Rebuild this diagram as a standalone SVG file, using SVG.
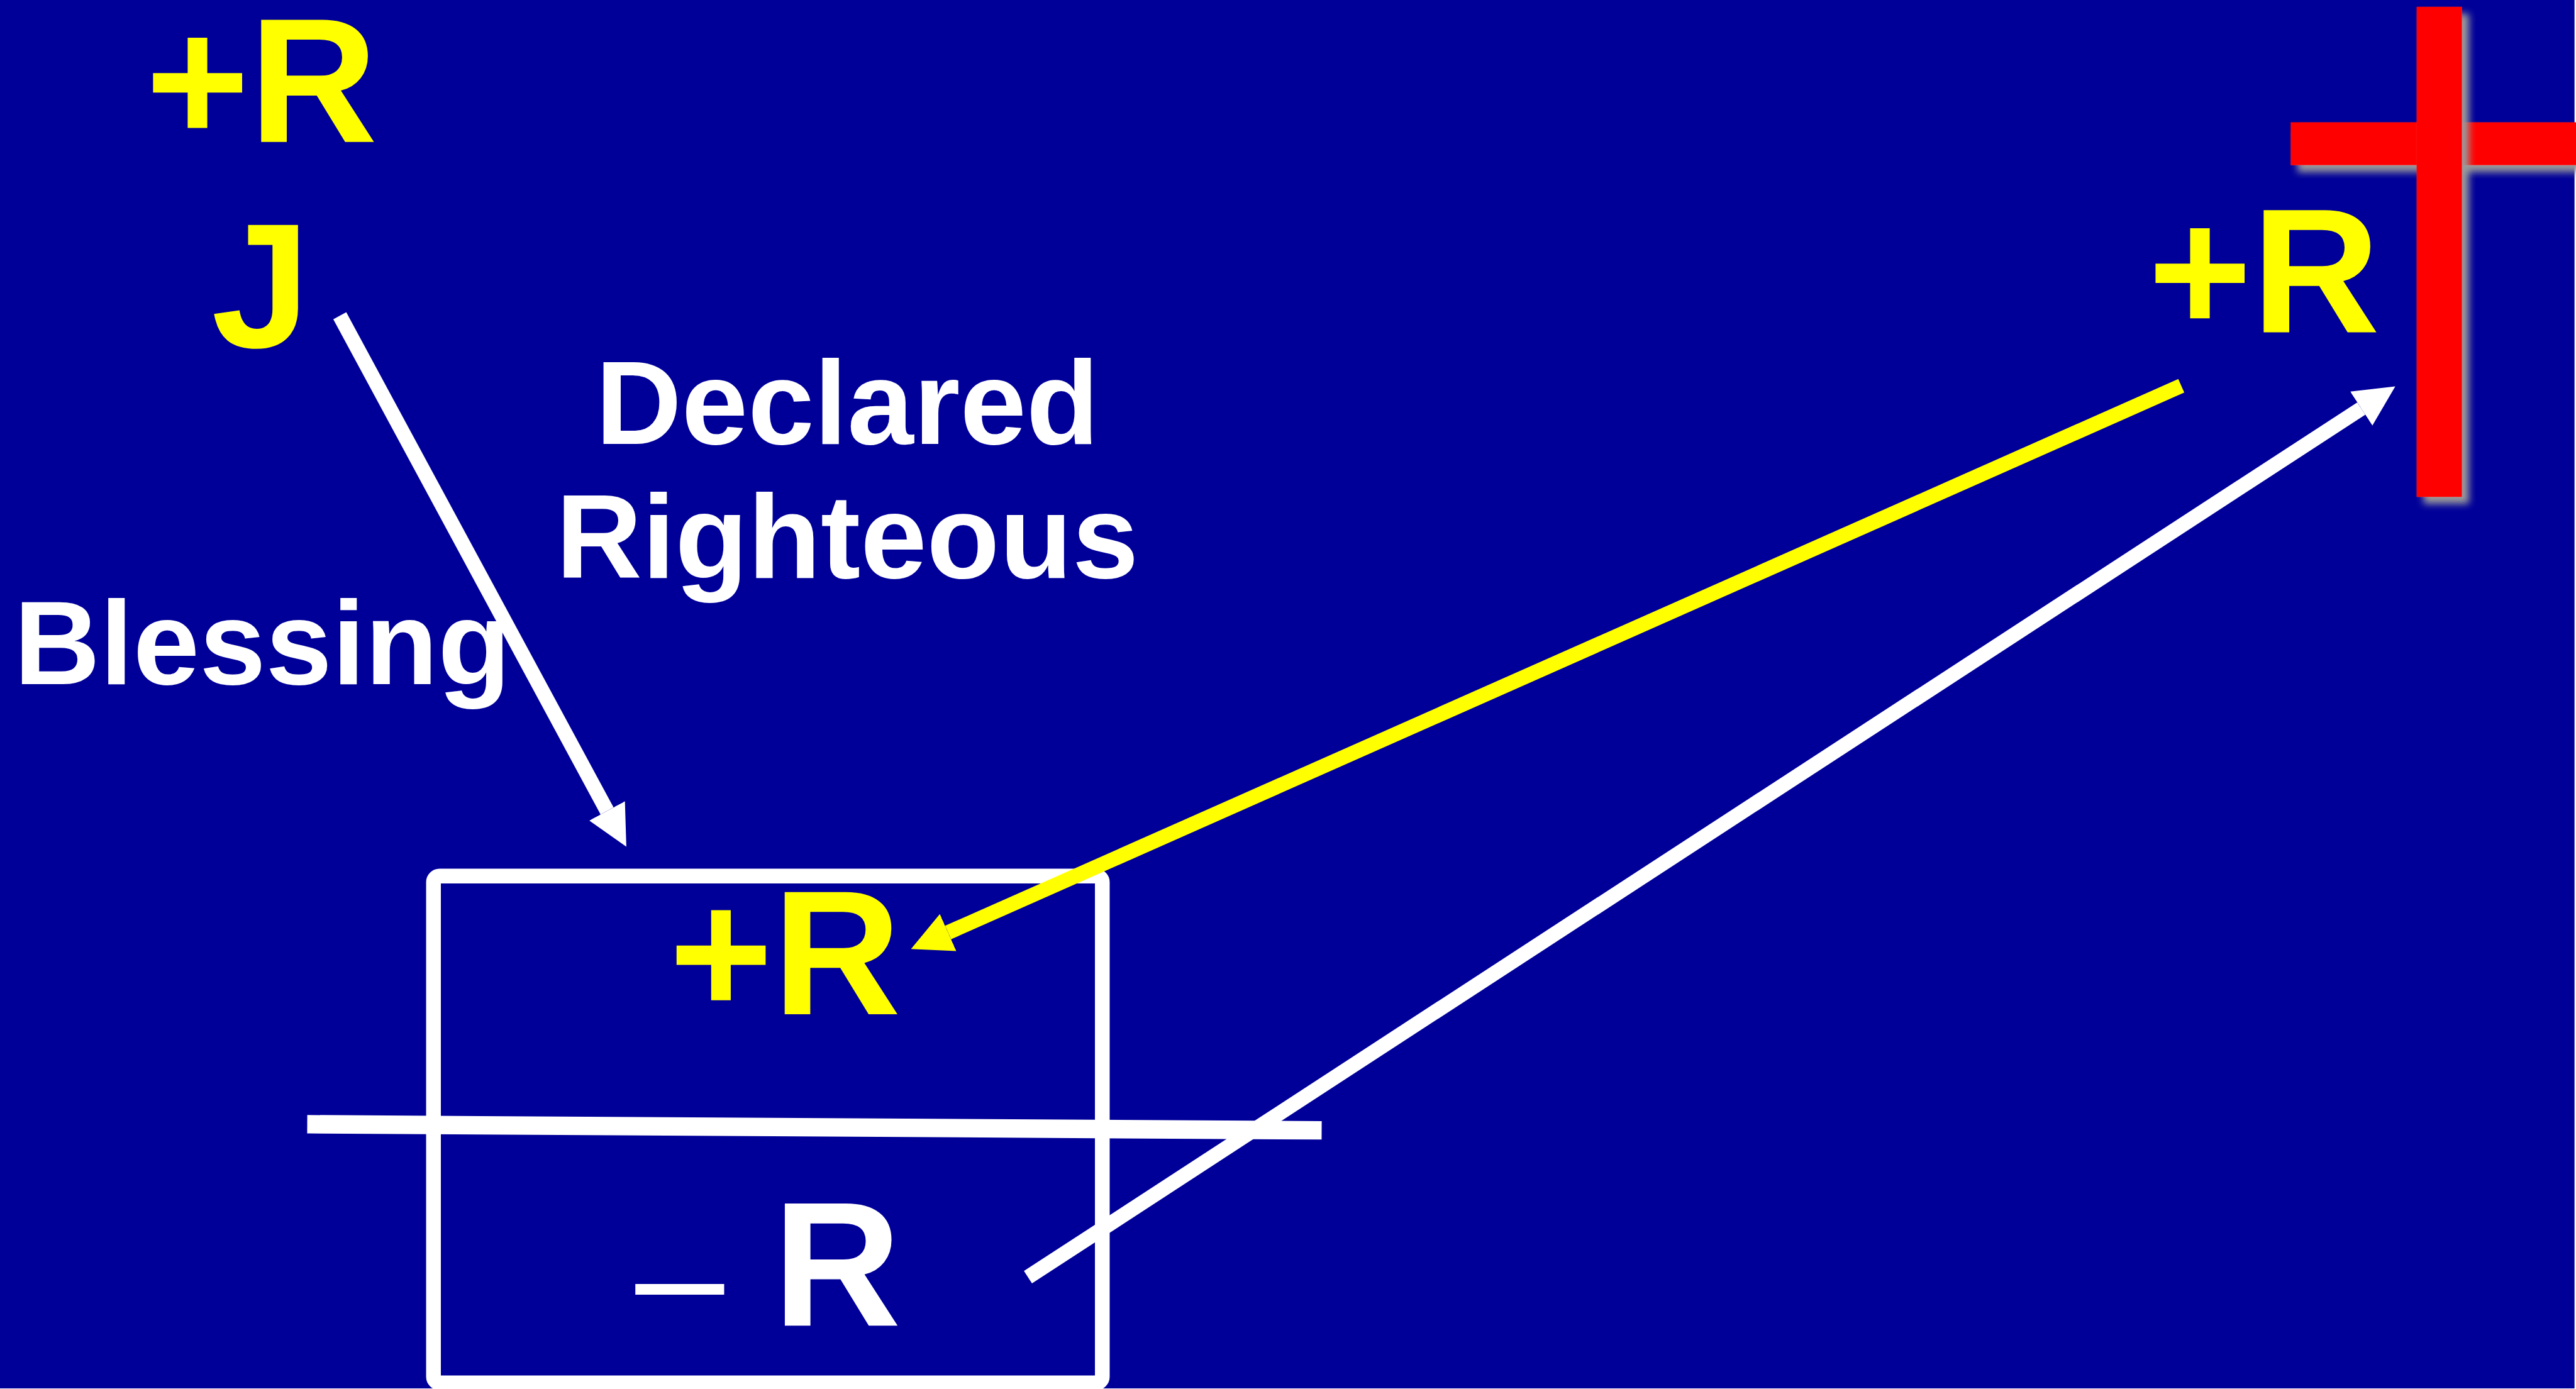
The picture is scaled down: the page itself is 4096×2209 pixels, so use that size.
<svg xmlns="http://www.w3.org/2000/svg" width="4096" height="2209" viewBox="0 0 4096 2209">
<style>
.big{font-family:"Liberation Sans",Arial,sans-serif;font-weight:bold;font-size:289px}
.lbl{font-family:"Liberation Sans",Arial,sans-serif;font-weight:bold;font-size:194px;fill:#ffffff;text-anchor:middle}
.y{fill:#ffff00}
.w{fill:#ffffff}
.conn{fill:none;stroke-width:24;stroke-linecap:butt}
.bar{fill:#ff0000;filter:url(#shadow)}
</style>
<defs>
<filter id="shadow" x="-20%" y="-20%" width="150%" height="150%">
<feGaussianBlur in="SourceAlpha" stdDeviation="6" result="b"/>
<feOffset in="b" dx="11" dy="11" result="o"/>
<feFlood flood-color="#9a9a9a" result="c"/>
<feComposite in="c" in2="o" operator="in" result="s"/>
<feMerge><feMergeNode in="s"/><feMergeNode in="SourceGraphic"/></feMerge>
</filter>
<marker id="headW" viewBox="0 0 66 66" refX="0" refY="33" markerWidth="2.75" markerHeight="2.75" orient="auto" markerUnits="strokeWidth"><path d="M0,0 L66,33 L0,66 z" fill="#ffffff"/></marker>
<marker id="headY" viewBox="0 0 66 66" refX="0" refY="33" markerWidth="2.75" markerHeight="2.75" orient="auto" markerUnits="strokeWidth"><path d="M0,0 L66,33 L0,66 z" fill="#ffff00"/></marker>
</defs>
<g transform="scale(0.977)">
<rect x="0" y="0" width="4190" height="2260" fill="#000099"/>
<g id="cross">
<rect class="bar" x="3728" y="199" width="480" height="70"/>
<rect class="bar" x="3933" y="11" width="74" height="798"/>
</g>
<g id="node-top-left">
<text class="big y" x="237" y="231">+R</text>
<text class="big y" x="344" y="565">J</text>
</g>
<g id="node-top-right">
<text class="big y" x="3496" y="541">+R</text>
</g>
<g id="label-declared">
<text class="lbl" x="1379" y="723">Declared</text>
<text class="lbl" x="1379" y="941">Righteous</text>
</g>
<g id="label-blessing">
<text class="lbl" x="427" y="1114">Blessing</text>
</g>
<g id="node-box">
<rect x="705.5" y="1426" width="1088.5" height="825" rx="10" fill="none" stroke="#ffffff" stroke-width="24"/>
<line x1="500" y1="1830" x2="2151" y2="1840" stroke="#ffffff" stroke-width="30"/>
<text class="big y" x="1089" y="1651">+R</text>
<text class="big w" y="2158"><tspan x="1034" y="2165" style="font-weight:normal;font-size:260px">–</tspan><tspan x="1258" y="2158">R</tspan></text>
</g>
<g id="connectors">
<line class="conn" x1="553" y1="514" x2="988" y2="1320" stroke="#ffffff" marker-end="url(#headW)"/>
<line class="conn" x1="3550" y1="628" x2="1543" y2="1518" stroke="#ffff00" marker-end="url(#headY)"/>
<line class="conn" x1="1673" y1="2079" x2="3843" y2="665" stroke="#ffffff" marker-end="url(#headW)"/>
</g>
</g>
</svg>
